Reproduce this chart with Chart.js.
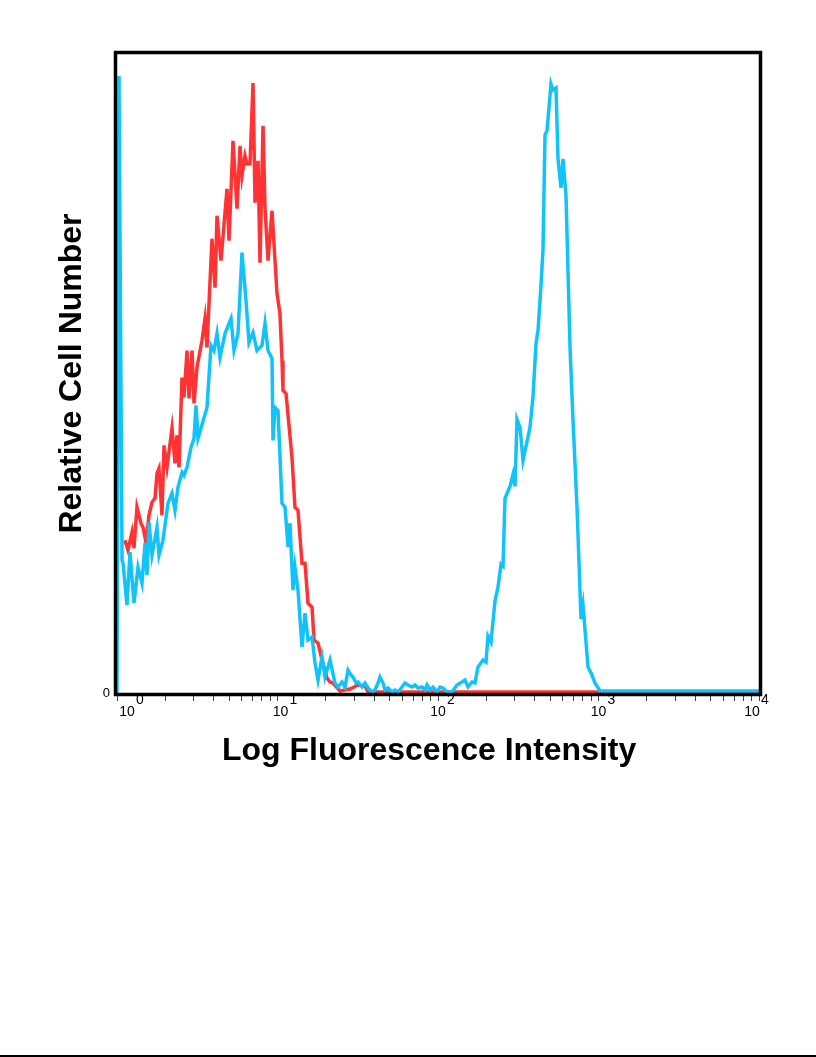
<!DOCTYPE html>
<html>
<head>
<meta charset="utf-8">
<script src="https://cdn.jsdelivr.net/npm/chart.js@4.4.0/dist/chart.umd.min.js"></script>
<style>
  html, body { margin: 0; padding: 0; background: #fff; }
  #wrap { position: relative; width: 816px; height: 1057px; }
  #pageLine { position: absolute; left: 0; top: 1055px; width: 816px; height: 2px; background: #000; }
</style>
</head>
<body>
<div id="wrap">
  <canvas id="histChart" width="816" height="1057"></canvas>
  <div id="pageLine"></div>
</div>
<script>
// isotype control (red)
var redIntensity = [1.121, 1.171, 1.240, 1.276, 1.332, 1.411, 1.452, 1.516, 1.582, 1.652,
  1.725, 1.775, 1.827, 1.907, 1.963, 2.049, 2.201, 2.298, 2.365, 2.434,
  2.541, 2.615, 2.731, 2.810, 2.934, 3.019, 3.150, 3.385, 3.534, 3.637,
  3.907, 4.080, 4.199, 4.446, 4.847, 4.988, 5.282, 5.595, 5.840, 6.009,
  6.273, 6.457, 6.741, 7.038, 7.243, 7.561, 7.780, 8.124, 8.359, 8.727,
  9.242, 9.929, 10.36, 10.67, 10.82, 11.30, 12.31, 12.85, 13.42, 14.21,
  14.84, 15.49, 16.41, 16.88, 17.88, 18.94, 20.34, 21.24, 22.17, 24.51,
  28.29, 31.74, 35.09, 36.64, 10000];
var redCount = [153, 143, 161, 145, 186, 170, 166, 151, 178, 191,
  195, 220, 225, 178, 248, 226, 265, 230, 258, 226,
  316, 296, 343, 295, 343, 290, 326, 353, 375, 346,
  455, 406, 478, 433, 505, 453, 553, 485, 548, 518,
  538, 530, 530, 611, 491, 533, 431, 568, 486, 433,
  483, 400, 380, 333, 303, 300, 236, 186, 183, 130,
  130, 90, 86, 53, 50, 33, 15, 11, 10, 2,
  4, 8, 7, 1, 1];

// stained sample (blue)
var blueIntensity = [1.000, 1.029, 1.075, 1.090, 1.154, 1.205, 1.276, 1.352, 1.431, 1.495,
  1.538, 1.582, 1.652, 1.775, 1.827, 1.934, 2.078, 2.201, 2.298, 2.399,
  2.541, 2.615, 2.731, 2.891, 3.019, 3.106, 3.197, 3.637, 3.852, 4.021,
  4.199, 4.383, 4.709, 5.133, 5.358, 5.675, 6.009, 6.365, 6.643, 7.038,
  7.454, 8.007, 8.359, 8.727, 9.242, 9.376, 9.647, 10.07, 10.67, 11.14,
  11.63, 11.96, 12.49, 12.85, 13.42, 14.21, 14.84, 15.49, 16.41, 17.13,
  17.88, 18.94, 19.77, 21.24, 22.82, 23.82, 25.23, 26.34, 27.50, 28.71,
  29.54, 30.84, 31.74, 33.61, 35.09, 36.64, 38.80, 40.51, 42.29, 43.52,
  45.43, 46.75, 48.81, 51.69, 53.96, 56.34, 59.67, 62.30, 65.04, 68.87,
  71.90, 75.07, 79.50, 82.99, 85.41, 89.17, 93.08, 98.58, 102.9, 107.5,
  113.8, 122.3, 131.3, 141.1, 147.3, 153.8, 162.9, 170.0, 177.5, 190.7,
  199.1, 204.9, 213.9, 226.5, 236.5, 247.0, 254.1, 261.5, 280.9, 293.4,
  301.9, 310.7, 324.4, 338.6, 358.6, 374.3, 390.8, 408.0, 419.9, 438.2,
  451.0, 464.2, 477.7, 505.8, 520.6, 543.5, 559.4, 584.0, 601.0, 627.5,
  664.6, 693.7, 734.8, 745.4, 778.2, 800.9, 860.5, 910.8, 951.0, 1022, 10000];
var blueCount = [0, 618, 133, 130, 88, 141, 90, 126, 110, 150,
  118, 171, 138, 166, 138, 153, 190, 200, 183, 206,
  221, 218, 226, 246, 255, 288, 255, 286, 348, 343,
  360, 336, 360, 375, 343, 360, 441, 393, 351, 361,
  343, 348, 370, 343, 335, 253, 286, 283, 190, 186,
  146, 170, 103, 126, 103, 46, 80, 53, 56, 30,
  13, 36, 16, 33, 10, 6, 11, 6, 23, 18,
  16, 10, 11, 6, 10, 5, 1, 3, 10, 16,
  10, 3, 5, 1, 3, 1, 6, 10, 8, 6,
  8, 5, 6, 3, 8, 3, 6, 1, 6, 5,
  1, 1, 8, 11, 13, 6, 11, 10, 26, 33,
  31, 57, 51, 92, 106, 129, 127, 195, 207, 219,
  207, 274, 266, 233, 252, 266, 297, 350, 363, 408,
  444, 559, 563, 610, 604, 606, 535, 506, 535, 498,
  346, 273, 186, 158, 74, 88, 26, 18, 10, 2, 2];

var xTickValues = [1, 2, 3, 4, 5, 6, 7, 8, 9,
  10, 20, 30, 40, 50, 60, 70, 80, 90,
  100, 200, 300, 400, 500, 600, 700, 800, 900,
  1000, 2000, 3000, 4000, 5000, 6000, 7000, 8000, 9000, 10000];
var decadeValues = [1, 10, 100, 1000, 10000];
var decadeExponents = ['0', '1', '2', '3', '4'];
var yTickValues = [0];

function toPoints(xs, ys) {
  return xs.map(function (x, i) { return { x: x, y: ys[i] }; });
}

var labelFont = '14px "Liberation Sans", Arial, sans-serif';
var labelShift = [10, 3, 0, 0, -7];

var framePlugin = {
  id: 'frame',
  afterDatasetsDraw: function (chart) {
    var a = chart.chartArea, ctx = chart.ctx;
    ctx.save();
    ctx.strokeStyle = '#000';
    ctx.lineWidth = 3.5;
    ctx.strokeRect(a.left - 1.5, a.top - 1.5, a.right - a.left + 3, a.bottom - a.top + 3);
    ctx.restore();
  }
};

var decadeLabels = {
  id: 'decadeLabels',
  afterDraw: function (chart) {
    var sx = chart.scales.x, ctx = chart.ctx;
    ctx.save();
    ctx.fillStyle = '#000';
    ctx.font = labelFont;
    ctx.textBaseline = 'middle';
    decadeValues.forEach(function (v, i) {
      var px = sx.getPixelForValue(v) + labelShift[i];
      ctx.textAlign = 'center';
      ctx.fillText('10', px, 712);
      ctx.textAlign = 'left';
      ctx.fillText(decadeExponents[i], px + 9, 700);
    });
    ctx.restore();
  }
};

var ctx = document.getElementById('histChart').getContext('2d');
var histChart = new Chart(ctx, {
  type: 'line',
  data: {
    datasets: [{
      label: 'Isotype control',
      data: toPoints(redIntensity, redCount),
      borderColor: '#FF3333',
      borderWidth: 3.5,
      pointRadius: 0,
      tension: 0,
      order: 2
    }, {
      label: 'Stained',
      data: toPoints(blueIntensity, blueCount),
      borderColor: '#12C3FA',
      borderWidth: 3.5,
      pointRadius: 0,
      tension: 0,
      order: 1
    }]
  },
  options: {
    responsive: false,
    animation: false,
    devicePixelRatio: 1,
    layout: { padding: { left: 0, top: 54, right: 57, bottom: 284 } },
    plugins: { legend: { display: false }, tooltip: { enabled: false } },
    scales: {
      x: {
        type: 'logarithmic',
        min: 1,
        max: 10000,
        afterBuildTicks: function (s) {
          s.ticks = xTickValues.map(function (v) { return { value: v, major: decadeValues.indexOf(v) >= 0 }; });
        },
        afterFit: function (s) { s.height = 80; },
        ticks: { display: false, autoSkip: false },
        grid: { drawOnChartArea: false, drawTicks: true, tickLength: 8, color: '#444', lineWidth: 1 },
        border: { display: false },
        title: {
          display: true,
          // trailing spaces nudge the centred title a little to the left, as in the original
          text: 'Log Fluorescence Intensity  ',
          color: '#000',
          font: { family: '"Liberation Sans", Arial, sans-serif', size: 32, weight: 'bold' },
          padding: { top: 0, bottom: 3 }
        }
      },
      y: {
        min: 0,
        max: 640,
        afterBuildTicks: function (s) {
          s.ticks = yTickValues.map(function (v) { return { value: v }; });
        },
        afterFit: function (s) { s.width = 117; },
        ticks: { color: '#000', padding: 7, font: { family: '"Liberation Sans", Arial, sans-serif', size: 13 } },
        grid: { display: false, drawTicks: false },
        border: { display: false },
        title: {
          display: true,
          text: 'Relative Cell Number',
          color: '#000',
          font: { family: '"Liberation Sans", Arial, sans-serif', size: 32, weight: 'bold' },
          padding: { top: 53, bottom: 0 }
        }
      }
    }
  },
  plugins: [framePlugin, decadeLabels]
});
</script>
</body>
</html>
